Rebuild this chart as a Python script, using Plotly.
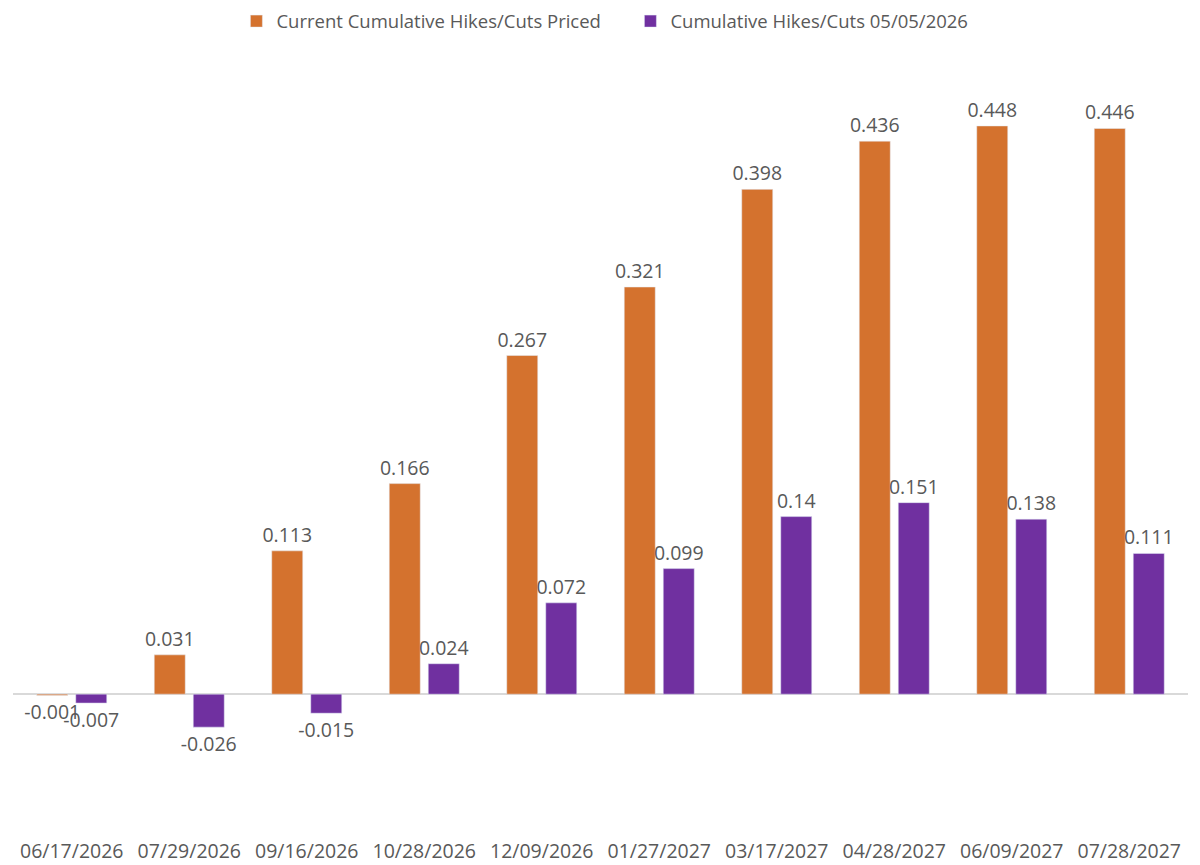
import plotly.graph_objects as go

categories = ["06/17/2026", "07/29/2026", "09/16/2026", "10/28/2026", "12/09/2026",
              "01/27/2027", "03/17/2027", "04/28/2027", "06/09/2027", "07/28/2027"]
current_priced = [-0.001, 0.031, 0.113, 0.166, 0.267, 0.321, 0.398, 0.436, 0.448, 0.446]
as_of_0505 = [-0.007, -0.026, -0.015, 0.024, 0.072, 0.099, 0.14, 0.151, 0.138, 0.111]

name_current = "Current Cumulative Hikes/Cuts Priced"
name_past = "Cumulative Hikes/Cuts 05/05/2026"

ORANGE = "#D4722E"
PURPLE = "#7030A0"
TEXT = "#595959"
FONT = "Open Sans"

fig = go.Figure()
for vals, nm, col in [(current_priced, name_current, ORANGE), (as_of_0505, name_past, PURPLE)]:
    fig.add_trace(go.Bar(
        x=categories, y=vals, name=nm,
        marker_color=col,
        text=[f"{v:g}" for v in vals], textposition="outside",
        constraintext="none",
        textfont=dict(color=TEXT, size=19.5, family=FONT), cliponaxis=False,
    ))

fig.update_layout(
    width=1200, height=865,
    margin=dict(l=13, r=12, t=60, b=44, autoexpand=False),
    paper_bgcolor="white", plot_bgcolor="white",
    barmode="group", bargap=0.336, bargroupgap=0.205,
    font=dict(family=FONT, color=TEXT, size=18),
    legend=dict(orientation="h", x=0.197, xref="container", xanchor="left",
                y=0.997, yref="container", yanchor="top",
                font=dict(size=18.5, color=TEXT, family=FONT),
                itemwidth=30, entrywidth=349, entrywidthmode="pixels"),
    showlegend=True,
)
fig.update_xaxes(showgrid=False, showline=False, zeroline=False, ticks="",
                 tickfont=dict(size=19.5, color=TEXT, family=FONT), ticklabelstandoff=16)
fig.update_yaxes(range=[-0.1, 0.5], showgrid=False, showticklabels=False,
                 zeroline=True, zerolinecolor="#D9D9D9", zerolinewidth=1.5)

# remove the default 8px page margin so the figure fills the window exactly
fig.write_html("out.html", config={"displayModeBar": False},
               post_script="document.body.style.margin='0';")
